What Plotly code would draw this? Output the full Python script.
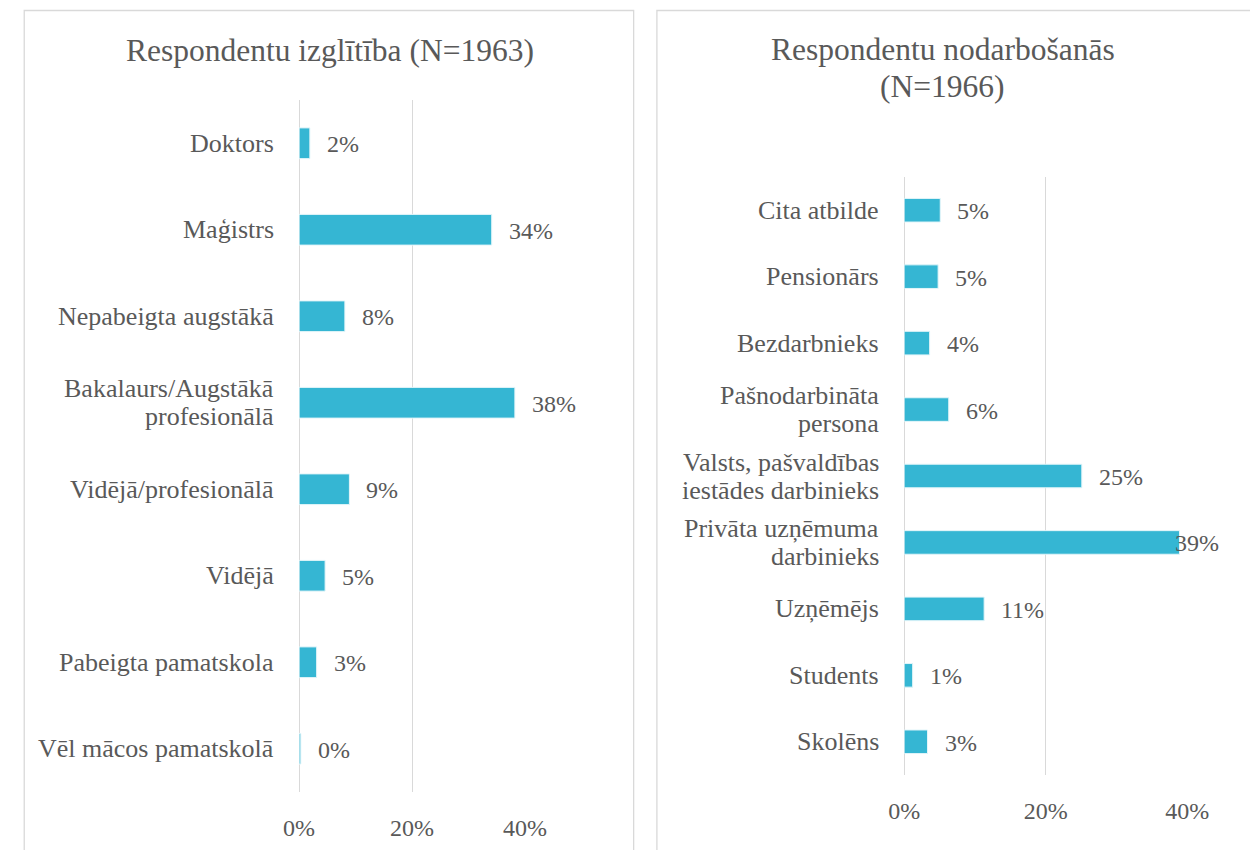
import plotly.graph_objects as go

# left chart: education (top to bottom as shown)
edu_labels = ['Doktors', 'Maģistrs', 'Nepabeigta augstākā', 'Bakalaurs/Augstākā<br>profesionālā',
              'Vidējā/profesionālā', 'Vidējā', 'Pabeigta pamatskola', 'Vēl mācos pamatskolā']
edu_values = [0.019, 0.341, 0.081, 0.382, 0.089, 0.046, 0.031, 0.003]

# right chart: occupation (top to bottom as shown)
occ_labels = ['Cita atbilde', 'Pensionārs', 'Bezdarbnieks', 'Pašnodarbināta<br>persona',
              'Valsts, pašvaldības<br>iestādes darbinieks', 'Privāta uzņēmuma<br>darbinieks',
              'Uzņēmējs', 'Students', 'Skolēns']
occ_values = [0.051, 0.048, 0.036, 0.063, 0.251, 0.389, 0.113, 0.012, 0.033]

x_ticks = [0, 0.2, 0.4]
x_max = 0.4

FONT = 'Liberation Serif, Times New Roman, serif'
TXT = '#595959'
GRID = '#D9D9D9'
BAR = '#35B6D3'
W, H = 1250, 850
LINE_PITCH = 28  # px between lines of a wrapped label
LABEL_W = 46     # rough width of a "NN%" value label, px

# pixel boxes: plot x0, x1, y0, y1 and the right edge of its chart frame
panels = [
    dict(cats=edu_labels, vals=edu_values, xa='x', ya='y', box=(292, 525, 100, 792), edge=637),
    dict(cats=occ_labels, vals=occ_values, xa='x2', ya='y2', box=(916, 1208, 177, 775), edge=W),
]

fig = go.Figure()


def add_lines(text, size, pitch, **kw):
    # plotly's own line height is too loose, so place each line separately
    lines = text.split('<br>')
    n = len(lines)
    for i, ln in enumerate(lines):
        fig.add_annotation(text=ln, showarrow=False, yshift=((n - 1) / 2 - i) * pitch,
                           font=dict(family=FONT, size=size, color=TXT), **kw)


for p in panels:
    xa, ya = p['xa'], p['ya']
    x0, x1, _, _ = p['box']
    fig.add_trace(go.Bar(
        x=p['vals'], y=p['cats'], orientation='h', xaxis=xa, yaxis=ya,
        marker=dict(color=BAR, line=dict(color='#E3F5F9', width=1)),
        showlegend=False, hoverinfo='skip'))
    for c, v in zip(p['cats'], p['vals']):
        add_lines(c, 26, LINE_PITCH, x=0, xref=xa + ' domain', y=c, yref=ya,
                  xanchor='right', xshift=-23, yanchor='middle')
        # Excel pulls the value label back when it would leave the chart frame
        end_px = x0 + v / x_max * (x1 - x0)
        shift = 15 if end_px + 15 + LABEL_W < p['edge'] else -6
        fig.add_annotation(x=v, xref=xa, y=c, yref=ya, text=f'{v:.0%}', showarrow=False,
                           xanchor='left', xshift=shift, yshift=-1,
                           font=dict(family=FONT, size=24, color=TXT))

xaxis_common = dict(range=[0, x_max], tickvals=x_ticks, tickformat='.0%', showgrid=True,
                    gridcolor=GRID, gridwidth=1.3, zeroline=True, zerolinecolor=GRID,
                    zerolinewidth=1.3, showline=False, ticks='', ticklabelstandoff=19,
                    tickfont=dict(family=FONT, size=24, color=TXT), fixedrange=True)
yaxis_common = dict(autorange='reversed', showticklabels=False, showgrid=False,
                    zeroline=False, showline=False, ticks='', fixedrange=True)

layout_axes = {}
for i, p in enumerate(panels):
    x0, x1, y0, y1 = p['box']
    sfx = '' if i == 0 else str(i + 1)
    layout_axes['xaxis' + sfx] = dict(domain=[x0 / W, x1 / W], anchor='y' + sfx, **xaxis_common)
    layout_axes['yaxis' + sfx] = dict(domain=[1 - y1 / H, 1 - y0 / H], anchor='x' + sfx,
                                      **yaxis_common)

fig.update_layout(
    width=W, height=H, margin=dict(l=0, r=0, t=0, b=0),
    paper_bgcolor='white', plot_bgcolor='white', bargap=0.645,
    font=dict(family=FONT, color=TXT), **layout_axes)

# panel frames (the right one runs past the picture edge)
fig.add_shape(type='rect', xref='paper', yref='paper', x0=8.5 / W, x1=637 / W,
              y0=-0.05, y1=1 - 10.5 / H, line=dict(color=GRID, width=1.3), layer='below')
fig.add_shape(type='rect', xref='paper', yref='paper', x0=661 / W, x1=1.02,
              y0=-0.05, y1=1 - 10.5 / H, line=dict(color=GRID, width=1.3), layer='below')

# titles
add_lines('Respondentu izglītība (N=1963)', 31.5, 37, x=324 / W, y=1 - 50 / H,
          xref='paper', yref='paper', xanchor='center', yanchor='middle')
add_lines('Respondentu nodarbošanās<br>(N=1966)', 31.5, 37, x=956 / W, y=1 - 68.5 / H,
          xref='paper', yref='paper', xanchor='center', yanchor='middle')

# drop the default page margin so the figure sits at the window's corner
fig.write_html('out.html', config={'displayModeBar': False},
               post_script="document.body.style.margin='0';document.body.style.overflow='hidden';")
